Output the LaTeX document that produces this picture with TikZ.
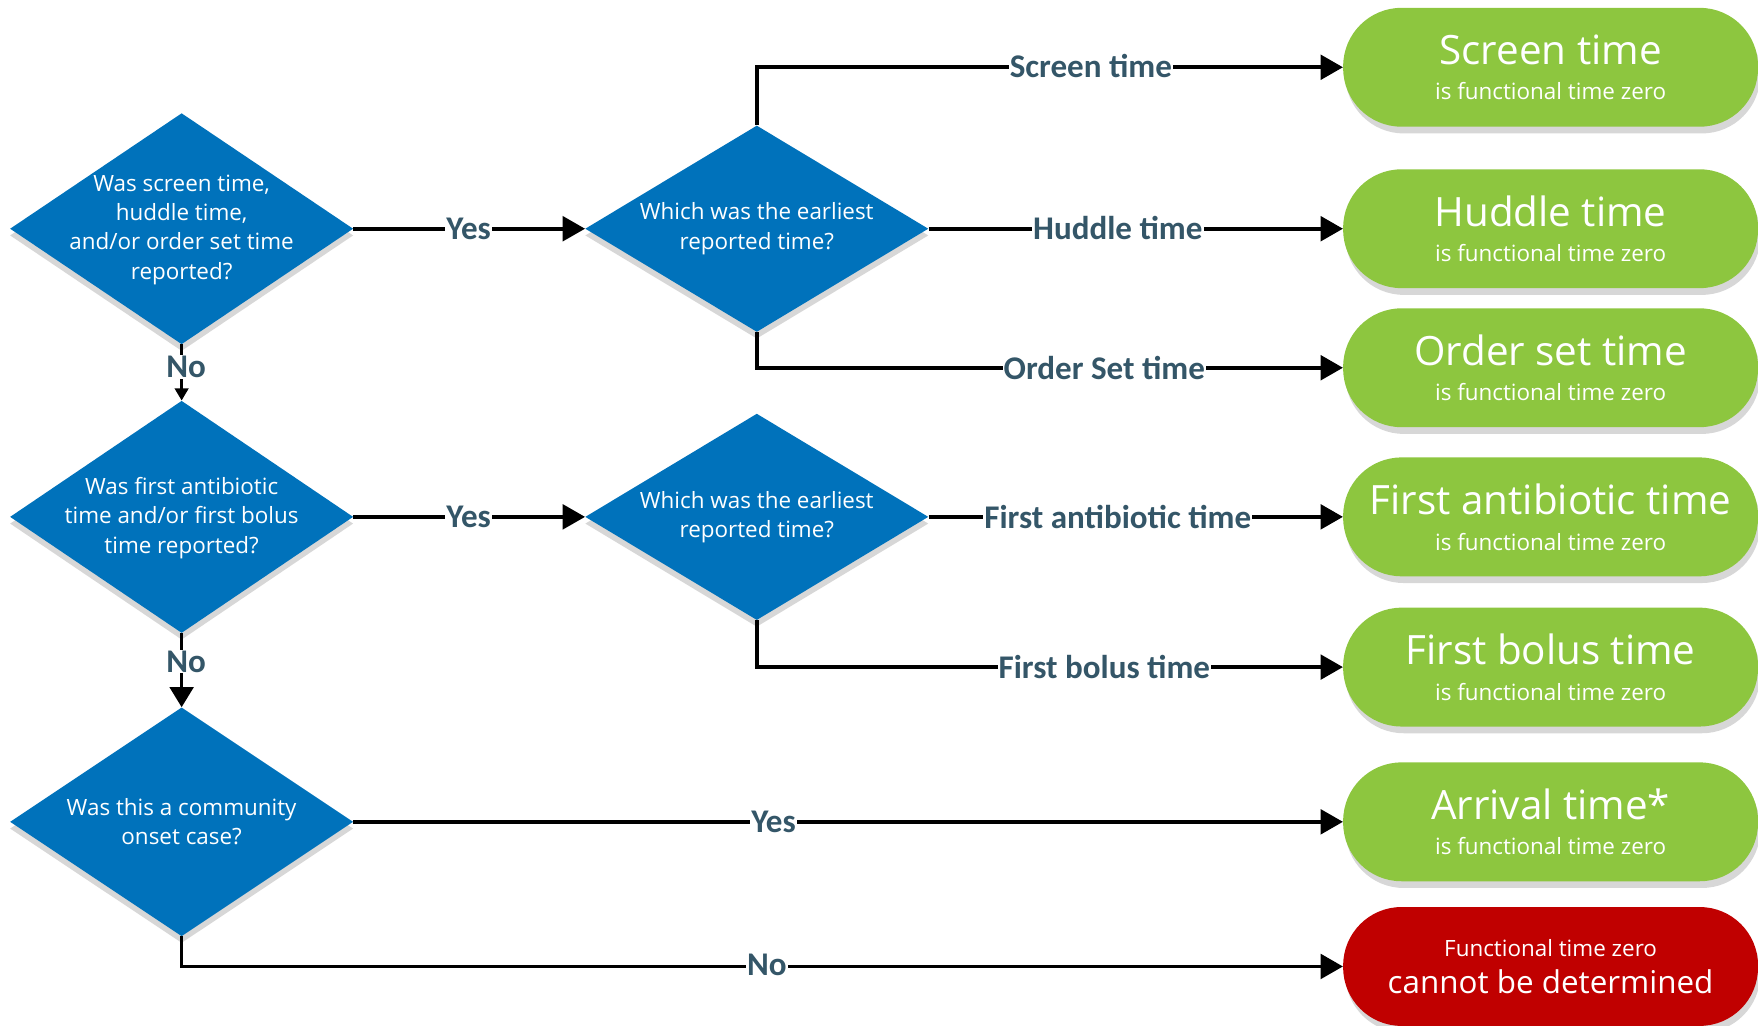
\documentclass[tikz,border=0pt]{standalone}
\usepackage{fontspec}
\setmainfont{Open Sans}
\newfontfamily\lblfont{Carlito}
\usetikzlibrary{shapes.geometric,arrows.meta,shadows}
\definecolor{dblue}{RGB}{0,114,187}
\definecolor{pgreen}{RGB}{141,198,63}
\definecolor{pred}{RGB}{192,0,0}
\definecolor{lblcol}{RGB}{52,86,104}
\definecolor{shadowgray}{RGB}{215,215,215}
\newcommand\pilltitle[1]{{\fontsize{36}{40}\selectfont #1}}
\newcommand\pillsub[1]{{\fontsize{20}{24}\selectfont #1}}
\begin{document}
\begin{tikzpicture}[x=1pt,y=-1pt,
  dia/.style={diamond,fill=dblue,inner sep=0pt,minimum width=306pt,
    drop shadow={shadow xshift=0pt,shadow yshift=-6pt,fill=shadowgray,opacity=1}},
  dtext/.style={text=white,align=center,font=\fontsize{20}{26}\selectfont,inner sep=0pt},
  pill/.style={rectangle,rounded corners=52pt,fill=pgreen,minimum width=370pt,minimum height=106pt,
    text=white,align=center,inner sep=0pt,font=\fontsize{20}{32}\selectfont,
    drop shadow={shadow xshift=2pt,shadow yshift=-6pt,fill=shadowgray,opacity=1}},
  conn/.style={draw=black,line width=3.2pt,-{Triangle[length=20pt,width=22pt]}},
  lbl/.style={fill=white,text=lblcol,inner sep=1pt,font=\lblfont\bfseries\fontsize{29.5}{31}\selectfont}
]
\useasboundingbox (0,0) rectangle (1568,915);

% decision diamonds
\node[dia,minimum height=206pt] (d1) at (162,204) {};
\node[dtext] (t1) at (162,205) {Was screen time,\\huddle time,\\and/or order set time\\reported?};
\node[dia,minimum height=184pt] (d2) at (675,204) {};
\node[dtext] (t2) at (675,204) {Which was the earliest\\reported time?};
\node[dia,minimum height=207pt] (d3) at (162,461) {};
\node[dtext] (t3) at (162,462) {Was first antibiotic\\time and/or first bolus\\time reported?};
\node[dia,minimum height=184pt] (d4) at (675,461) {};
\node[dtext] (t4) at (675,461) {Which was the earliest\\reported time?};
\node[dia,minimum height=204pt] (d5) at (162,733) {};
\node[dtext] (t5) at (162,733) {Was this a community\\onset case?};

% outcome pills
\node[pill] (p1) at (1383,60) {\pilltitle{Screen time}\\\pillsub{is functional time zero}};
\node[pill] (p2) at (1383,204) {\pilltitle{Huddle time}\\\pillsub{is functional time zero}};
\node[pill] (p3) at (1383,328) {\pilltitle{Order set time}\\\pillsub{is functional time zero}};
\node[pill] (p4) at (1383,461) {\pilltitle{First antibiotic time}\\\pillsub{is functional time zero}};
\node[pill] (p5) at (1383,595) {\pilltitle{First bolus time}\\\pillsub{is functional time zero}};
\node[pill] (p6) at (1383,733) {\pilltitle{Arrival time*}\\\pillsub{is functional time zero}};
\node[pill,fill=pred,font=\fontsize{20}{33}\selectfont] (p7) at (1383,862)
  {\pillsub{Functional time zero}\\{\fontsize{28}{33}\selectfont cannot be determined}};

% connectors
\draw[conn] (d1.east) -- (d2.west);
\node[lbl] (l1) at (418,204) {Yes};
\draw[conn] (d2.north) |- (p1.west);
\node[lbl] (l2) at (973,59) {Screen time};
\draw[conn] (d2.east) -- (p2.west);
\node[lbl] (l3) at (997,203) {Huddle time};
\draw[conn] (d2.south) |- (p3.west);
\node[lbl] (l4) at (985,328) {Order Set time};
\draw[draw=black,line width=3.2pt,-{Triangle[length=11pt,width=12pt]}] (d1.south) -- (d3.north);
\node[lbl] (l5) at (166,327) {No};
\draw[conn] (d3.east) -- (d4.west);
\node[lbl] (l6) at (418,461) {Yes};
\draw[conn] (d4.east) -- (p4.west);
\node[lbl] (l7) at (997,461) {First antibiotic time};
\draw[conn] (d4.south) |- (p5.west);
\node[lbl] (l8) at (985,595) {First bolus time};
\draw[draw=black,line width=3.2pt,-{Triangle[length=18pt,width=21pt]}] (d3.south) -- (d5.north);
\node[lbl] (l9) at (166,590) {No};
\draw[conn] (d5.east) -- (p6.west);
\node[lbl] (l10) at (690,733) {Yes};
\draw[conn] (d5.south) |- (p7.west);
\node[lbl] (l11) at (684,861) {No};
\end{tikzpicture}
\end{document}
